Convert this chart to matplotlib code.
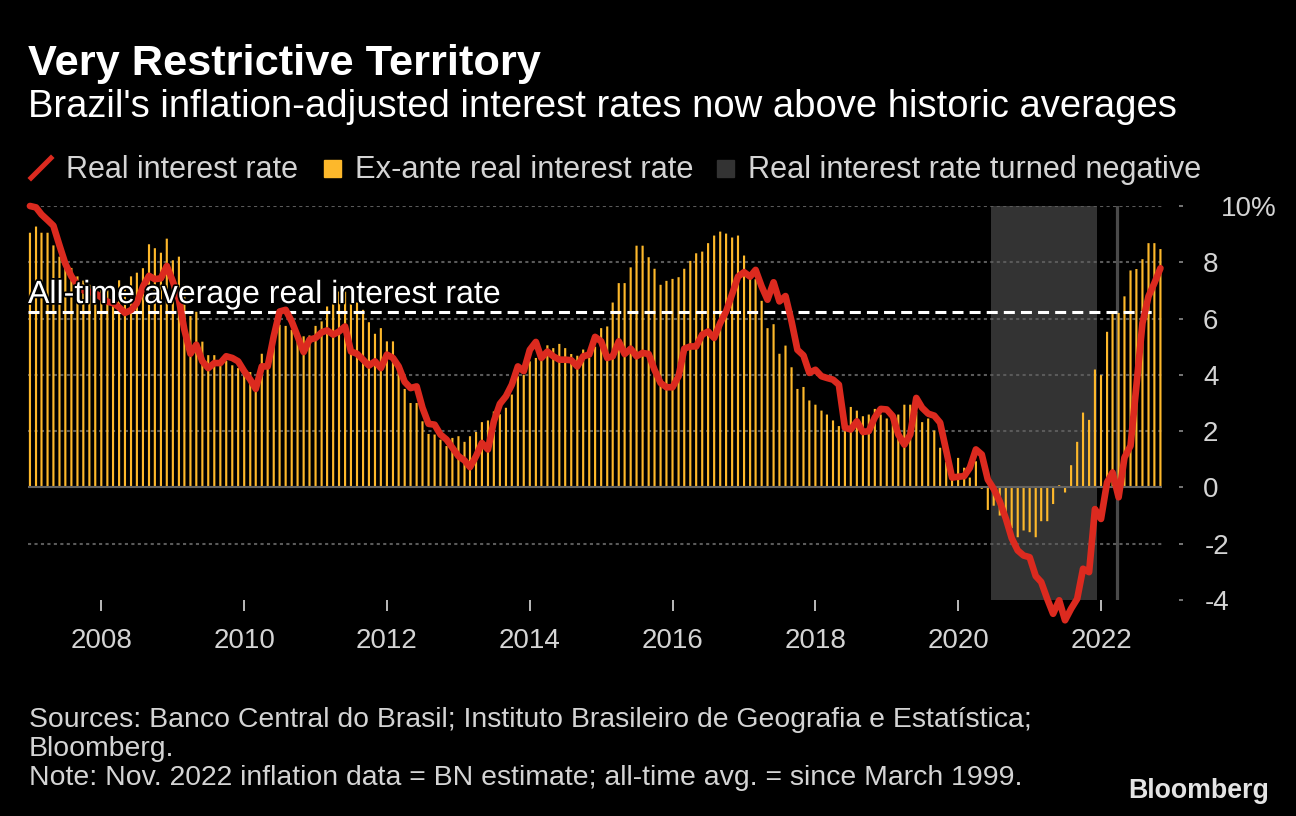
import matplotlib
matplotlib.use('Agg')
import matplotlib.pyplot as plt
import matplotlib.patheffects as pe
from matplotlib.lines import Line2D
from matplotlib.patches import Rectangle
import pandas as pd

W, H = 1296, 816
plt.rcParams['font.family'] = ['Liberation Sans', 'DejaVu Sans']

# ---------------- data ----------------
months = pd.date_range('2007-01-01', '2022-11-01', freq='MS')

real_rate = [
    10.0, 9.95, 9.7, 9.5, 9.3, 8.6, 7.95, 7.5, 7.2, 7.0,
    6.95, 6.9, 6.75, 6.6, 6.55, 6.4, 6.2, 6.3, 6.55, 7.14,
    7.52, 7.4, 7.43, 7.87, 7.32, 6.67, 5.6, 4.75, 5.07, 4.48,
    4.24, 4.42, 4.42, 4.66, 4.6, 4.48, 4.13, 3.83, 3.5, 4.3,
    4.3, 5.37, 6.25, 6.31, 5.9, 5.37, 4.81, 5.25, 5.31, 5.51,
    5.58, 5.43, 5.54, 5.72, 4.83, 4.75, 4.54, 4.33, 4.48, 4.24,
    4.72, 4.6, 4.3, 3.75, 3.53, 3.59, 2.83, 2.26, 2.23, 1.88,
    1.7, 1.41, 1.11, 0.96, 0.72, 1.11, 1.58, 1.35, 2.35, 2.97,
    3.24, 3.65, 4.3, 4.13, 4.89, 5.17, 4.6, 4.83, 4.66, 4.54,
    4.54, 4.52, 4.3, 4.66, 4.72, 5.35, 5.19, 4.6, 4.66, 5.19,
    4.74, 4.93, 4.66, 4.78, 4.74, 4.18, 3.71, 3.56, 3.56, 3.95,
    4.93, 5.01, 5.01, 5.43, 5.54, 5.31, 5.84, 6.25, 6.87, 7.49,
    7.65, 7.49, 7.73, 7.14, 6.67, 7.29, 6.61, 6.8, 5.9, 4.89,
    4.69, 4.07, 4.18, 3.95, 3.89, 3.83, 3.65, 2.12, 2.06, 2.35,
    1.97, 2.0, 2.49, 2.79, 2.77, 2.53, 1.88, 1.52, 1.88, 3.18,
    2.83, 2.62, 2.55, 2.3, 1.3, 0.35, 0.38, 0.4, 0.7, 1.35,
    1.17, 0.28, -0.05, -0.5, -1.1, -1.8, -2.24, -2.42, -2.48, -3.15,
    -3.36, -3.96, -4.49, -4.01, -4.72, -4.31, -3.96, -2.89, -3.01, -0.77,
    -1.12, 0.18, 0.53, -0.35, 1.06, 1.48, 3.6, 5.84, 6.79, 7.26, 7.79,
]

ex_ante_rate = [
    9.05, 9.27, 9.05, 9.05, 8.6, 8.2, 7.9, 7.8, 7.5, 7.35,
    7.2, 7.1, 7.1, 7.0, 7.1, 7.36, 7.2, 7.5, 7.63, 7.79,
    8.64, 8.5, 8.34, 8.84, 8.07, 8.2, 7.2, 6.09, 6.24, 5.18,
    4.7, 4.7, 4.5, 4.5, 4.34, 4.24, 4.0, 4.1, 3.6, 4.75,
    4.4, 5.3, 5.78, 5.74, 5.6, 5.19, 5.37, 5.4, 5.74, 5.9,
    6.43, 6.55, 6.96, 6.96, 6.55, 6.57, 6.31, 5.87, 5.46, 5.66,
    5.19, 5.19, 4.1, 3.5, 3.0, 3.0, 2.35, 1.9, 1.88, 1.7,
    1.47, 1.76, 1.82, 1.62, 1.82, 1.97, 2.32, 2.38, 2.7, 2.6,
    2.83, 3.3, 3.95, 4.0, 4.48, 4.6, 4.6, 5.05, 4.95, 5.1,
    4.95, 4.74, 4.68, 4.9, 4.6, 5.0, 5.66, 5.72, 6.57, 7.26,
    7.26, 7.82, 8.59, 8.59, 8.18, 7.77, 7.2, 7.34, 7.41, 7.47,
    7.77, 8.05, 8.32, 8.38, 8.68, 8.95, 9.09, 9.02, 8.88, 8.95,
    8.24, 7.6, 7.4, 6.63, 5.66, 5.8, 4.75, 5.04, 4.27, 3.5,
    3.57, 3.09, 2.94, 2.73, 2.59, 2.38, 2.18, 2.0, 2.86, 2.73,
    2.53, 2.59, 2.79, 2.59, 2.45, 2.59, 2.59, 2.94, 2.94, 2.7,
    2.32, 2.45, 2.02, 1.41, 0.9, 0.46, 1.05, 0.7, 0.35, 0.93,
    -0.05, -0.8, -0.65, -1.0, -1.24, -1.45, -1.77, -1.53, -1.59, -1.77,
    -1.2, -1.2, -0.59, 0.08, -0.18, 0.79, 1.62, 2.66, 2.4, 4.19,
    3.99, 5.53, 6.16, 6.2, 6.79, 7.71, 7.76, 8.11, 8.68, 8.68, 8.47,
]

avg_rate = 6.24
neg_period = ('2020-06-16', '2021-12-12')
marker_date = '2022-03-22'
ytick_vals = [-4, -2, 0, 2, 4, 6, 8, 10]
ytick_labels = ['-4', '-2', '0', '2', '4', '6', '8', '10%']
xtick_years = [2008, 2010, 2012, 2014, 2016, 2018, 2020, 2022]

title = 'Very Restrictive Territory'
subtitle = "Brazil's inflation-adjusted interest rates now above historic averages"
legend_labels = ['Real interest rate', 'Ex-ante real interest rate',
                 'Real interest rate turned negative']
avg_label = 'All-time average real interest rate'
footnotes = ['Sources: Banco Central do Brasil; Instituto Brasileiro de Geografia e Estatística;',
             'Bloomberg.',
             'Note: Nov. 2022 inflation data = BN estimate; all-time avg. = since March 1999.']

# ---------------- style ----------------
RED = '#dc2a1f'
YELLOW = '#fdb82b'
SHADE = '#333333'
GRID = '#5a5a5a'
TXT = '#d4d4d4'

fig = plt.figure(figsize=(W / 100, H / 100), dpi=100, facecolor='black')
ax = fig.add_axes([28 / W, (H - 600) / H, 1134 / W, 394 / H])
ax.set_facecolor('black')

ax.set_xlim(pd.Timestamp('2006-12-22'), pd.Timestamp('2022-11-09'))
ax.set_ylim(-4, 10)

ax.axvspan(pd.Timestamp(neg_period[0]), pd.Timestamp(neg_period[1]),
           color=SHADE, lw=0, zorder=0.5)
ax.axvline(pd.Timestamp(marker_date), color='#4a4a4a', lw=2.3, zorder=1)

bars = ax.bar(months, ex_ante_rate, width=11, color=YELLOW, lw=0, zorder=3)
for b in bars:
    b.set_snap(False)
ax.axhline(0, color='#626262', lw=1.5, zorder=4)
ax.axhline(avg_rate, xmin=0, xmax=0.996, color='white', lw=2.2,
           linestyle=(0, (3.6, 2.0)), zorder=5)
ax.plot(months, real_rate, color=RED, lw=4.8, zorder=6, clip_on=False,
        solid_joinstyle='round', solid_capstyle='round')

# grid + axes
ax.set_yticks(ytick_vals)
ax.set_yticklabels(ytick_labels)
ax.grid(axis='y', color=GRID, lw=1.5, linestyle=(0, (1.5, 1.6)))
for s in ax.spines.values():
    s.set_visible(False)
ax.spines['right'].set_position(('outward', 12.2))
ax.yaxis.tick_right()
ax.tick_params(axis='y', which='major', right=True, left=False, labelright=True,
               labelleft=False, length=2.9, width=1.4, color='#777777',
               labelcolor=TXT, labelsize=20, pad=14.4)
yt = ax.yaxis.get_major_ticks()
for v, tk in zip(ytick_vals, yt):
    if v in (0, -4):
        tk.gridline.set_visible(False)
    if v == 10:
        tk.set_pad(27.4)
    elif v < 0:
        tk.set_pad(15.5)

ax.set_xticks([pd.Timestamp(f'{y}-01-01') for y in xtick_years])
ax.set_xticklabels([str(y) for y in xtick_years])
ax.tick_params(axis='x', which='major', length=7.9, width=1.4, color='#bbbbbb',
               labelcolor=TXT, labelsize=20, pad=12.5)

# ---------------- texts ----------------
renderer = fig.canvas.get_renderer()


def fit_text(x, y_base, s, target_w, size0, **kw):
    t = fig.text(x / W, 1 - y_base / H, s, fontsize=size0, va='baseline', ha='left', **kw)
    w = t.get_window_extent(renderer).width
    t.set_fontsize(size0 * target_w / w)
    return t


fit_text(28, 75, title, 513, 27, color='white', fontweight='bold')
fit_text(28, 117, subtitle, 1149, 25, color='white')

# legend
fig.add_artist(Line2D([31 / W, 51 / W], [1 - 178 / H, 1 - 158 / H], color=RED, lw=3.6,
                      transform=fig.transFigure))
fit_text(66, 178, legend_labels[0], 233, 19, color=TXT)
fig.add_artist(Rectangle((324 / W, 1 - 177 / H), 17 / W, 17 / H, color=YELLOW,
                         transform=fig.transFigure))
fit_text(355, 178, legend_labels[1], 338, 19, color=TXT)
fig.add_artist(Rectangle((717 / W, 1 - 177 / H), 17 / W, 17 / H, color=SHADE,
                         transform=fig.transFigure))
fit_text(748, 178, legend_labels[2], 453, 19, color=TXT)

# average label
t = fit_text(28, 303, avg_label, 473, 21, color='white', zorder=10)
t.set_path_effects([pe.withStroke(linewidth=2.5, foreground='black')])

# footnotes
f0 = fit_text(29, 727, footnotes[0], 1000, 18, color=TXT)
fs = f0.get_fontsize()
fig.text(29 / W, 1 - 756 / H, footnotes[1], fontsize=fs, color=TXT, va='baseline')
fig.text(29 / W, 1 - 785 / H, footnotes[2], fontsize=fs, color=TXT, va='baseline')

fit_text(1128, 798, 'Bloomberg', 141, 19, color='#e4e4e4', fontweight='bold')

fig.savefig('out.png', dpi=100, facecolor='black')
